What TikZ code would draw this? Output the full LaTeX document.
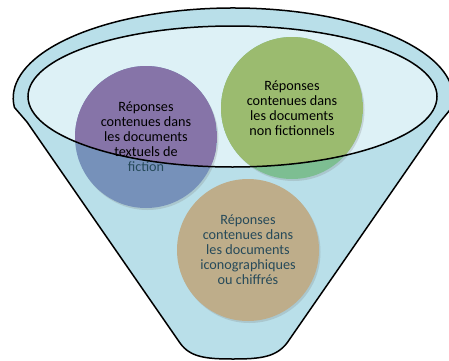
\documentclass[tikz,border=0pt]{standalone}
\usepackage{fontspec}
\setmainfont{Carlito}
\usetikzlibrary{shadows}
\definecolor{entonnoir}{HTML}{B9DFE9}
\definecolor{ouverture}{HTML}{DDF1F6}
\definecolor{violet}{HTML}{8674A8}
\definecolor{violetbas}{HTML}{7691BA}
\definecolor{vert}{HTML}{9BBB6F}
\definecolor{vertbas}{HTML}{7DBE92}
\definecolor{beige}{HTML}{BEAD8A}
\definecolor{sarcelle}{HTML}{264A5A}
\tikzset{
  bulle/.style={circle, minimum size=142pt, inner sep=0pt, align=center,
    font=\fontsize{14.2}{15}\selectfont,
    drop shadow={opacity=0.25, shadow xshift=1.5pt, shadow yshift=-2pt}},
  dessus/.style={path picture={\clip (ec) ellipse [x radius=204.5pt, y radius=70.5pt];
    \fill[#1] (path picture bounding box.south west) rectangle (path picture bounding box.north east);}}
}
\begin{document}
\begin{tikzpicture}[x=1pt, y=1pt]
\useasboundingbox (0,0) rectangle (449,360);
\clip (0,0) rectangle (449,360);
% Set the funnel
\coordinate (ec) at (232.5,263.5);
\path[fill=entonnoir] (452,252.6) arc[start angle=-6, end angle=186, x radius=220pt, y radius=90pt]
  -- (27,238) -- (180,17) .. controls (190,3) and (205,1) .. (233,1)
  .. controls (261,1) and (276,3) .. (287,17) -- (440,238) -- cycle;
\fill[ouverture] (ec) ellipse [x radius=204.5pt, y radius=70.5pt];

% Draw the circles and insert the texts
\node[bulle, fill=violetbas, dessus=violet] (fiction) at (146,223)
  {Réponses\\contenues dans\\les documents\\textuels de\\\textcolor{sarcelle}{fiction}};
\node[bulle, fill=vertbas, dessus=vert] (nonfiction) at (292,252)
  {Réponses\\contenues dans\\les documents\\non fictionnels};
\node[bulle, fill=beige, text=sarcelle] (icono) at (248,110)
  {Réponses\\contenues dans\\les documents\\iconographiques\\ou chiffrés};

\draw[line width=1.5pt] (ec) ellipse [x radius=204.5pt, y radius=70.5pt];
\draw[line width=1.5pt, line join=round] (452,252.6) arc[start angle=-6, end angle=186, x radius=220pt, y radius=90pt]
  -- (27,238) -- (180,17) .. controls (190,3) and (205,1) .. (233,1)
  .. controls (261,1) and (276,3) .. (287,17) -- (440,238) -- cycle;
\end{tikzpicture}
\end{document}
